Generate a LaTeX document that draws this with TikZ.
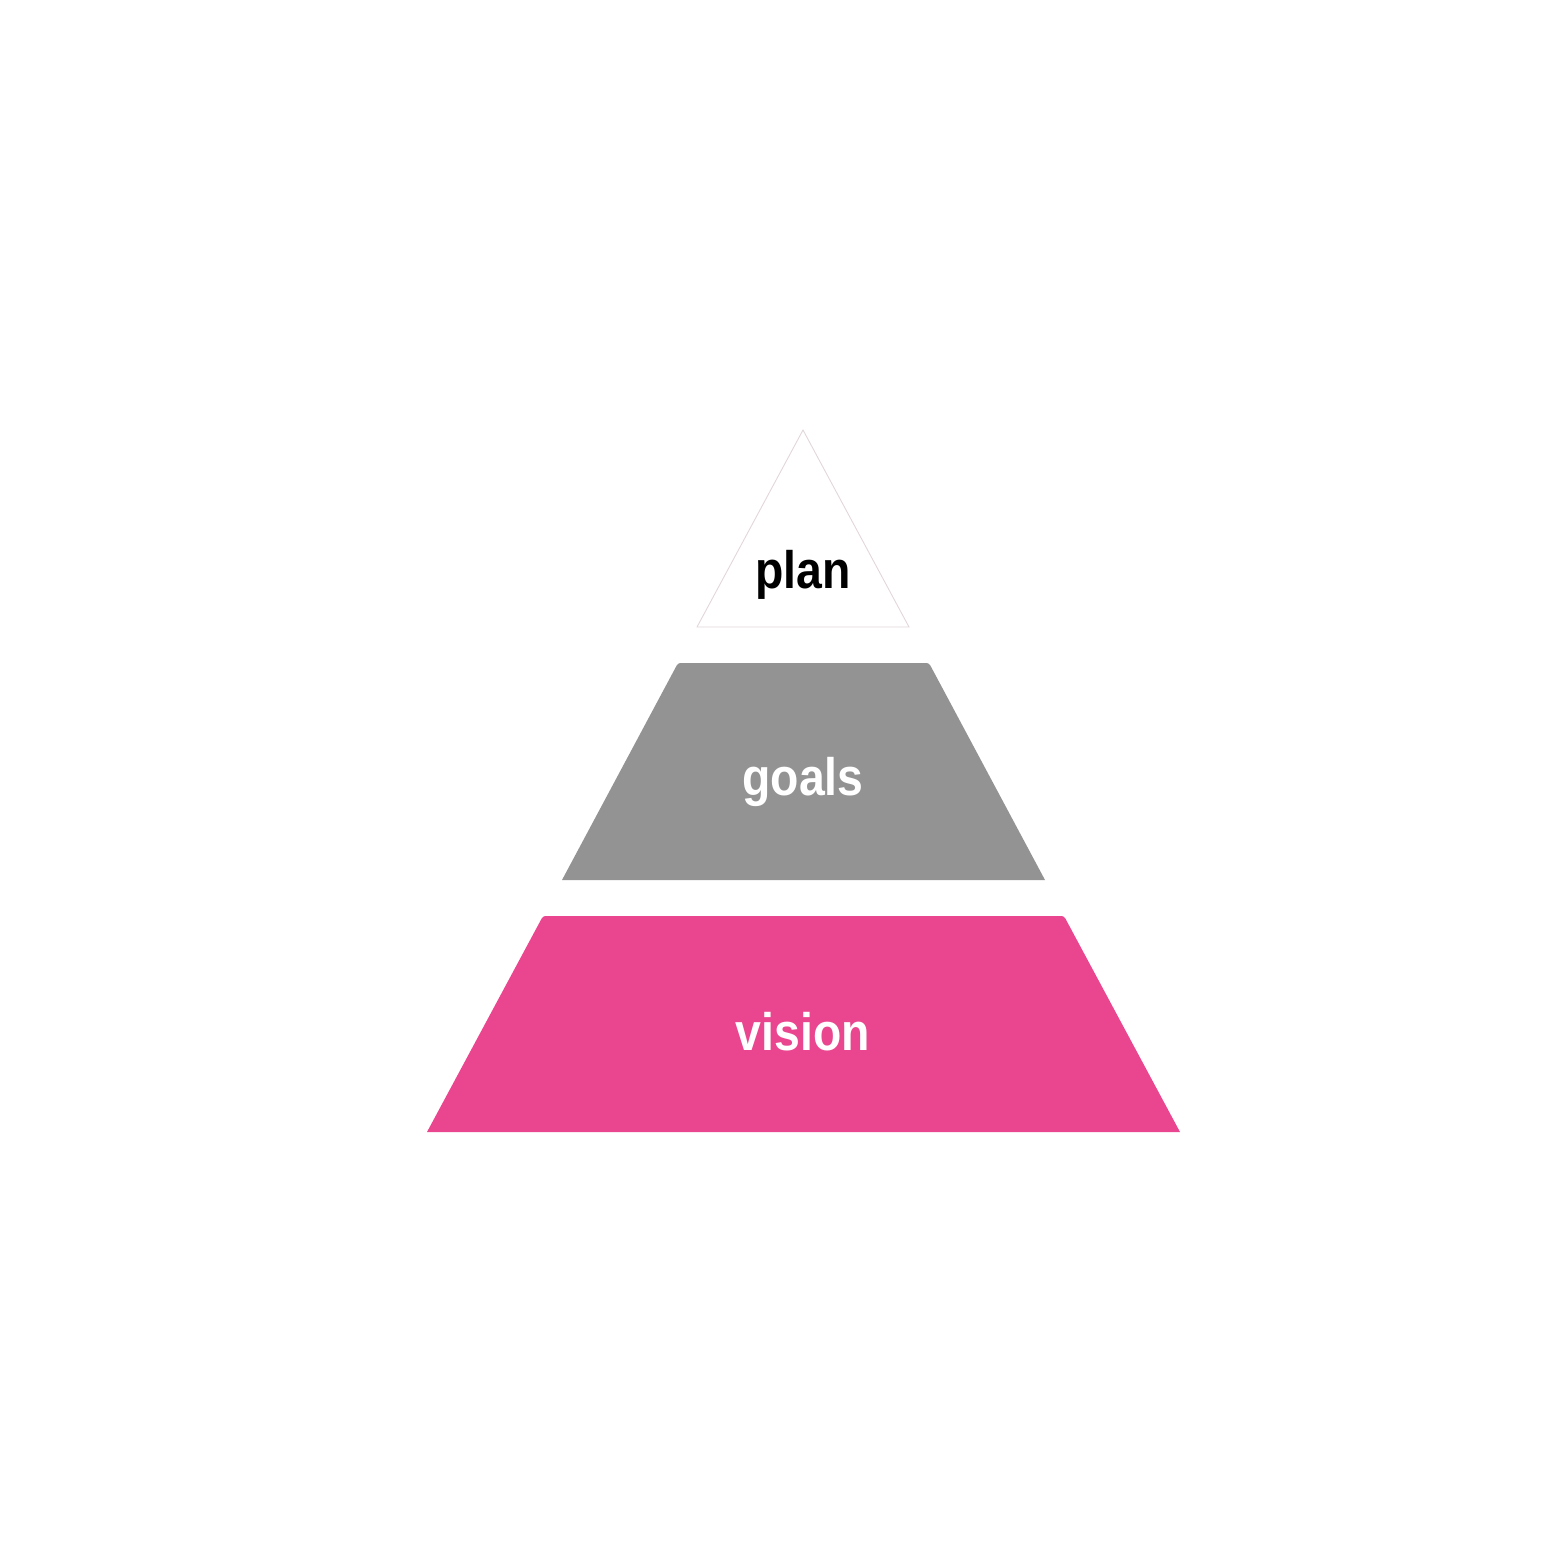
\documentclass[tikz,border=0pt]{standalone}
\usepackage{fontspec}
\setmainfont{Liberation Sans}[FakeStretch=0.88]
\usetikzlibrary{positioning}
\definecolor{layergray}{HTML}{939393}
\definecolor{layerpink}{HTML}{EA468F}
\definecolor{edgepink}{HTML}{E2D6DA}
\tikzset{
    layertext/.style={font=\fontsize{15}{18}\selectfont\bfseries, anchor=base, inner sep=0pt},
}
\begin{document}
\begin{tikzpicture}[x=0.1mm, y=-0.1mm]
    \useasboundingbox (0,0) rectangle (1563,1563);

    % Top: triangle
    \draw[edgepink, line width=0.25pt, fill=white] (803,430) -- (909,627) -- (697,627) -- cycle;
    \node[layertext, text=black] (plan) at (803,588) {plan};

    % Middle: trapezoid
    \fill[layergray] (562,880) [rounded corners=0.7pt] -- (678,663) -- (929,663) [sharp corners] -- (1045,880) -- cycle;
    \node[layertext, text=white] (goals) at (803,795) {goals};

    % Bottom: trapezoid
    \fill[layerpink] (427,1132) [rounded corners=0.7pt] -- (543,916) -- (1064,916) [sharp corners] -- (1180,1132) -- cycle;
    \node[layertext, text=white] (vision) at (803,1050) {vision};
\end{tikzpicture}
\end{document}
